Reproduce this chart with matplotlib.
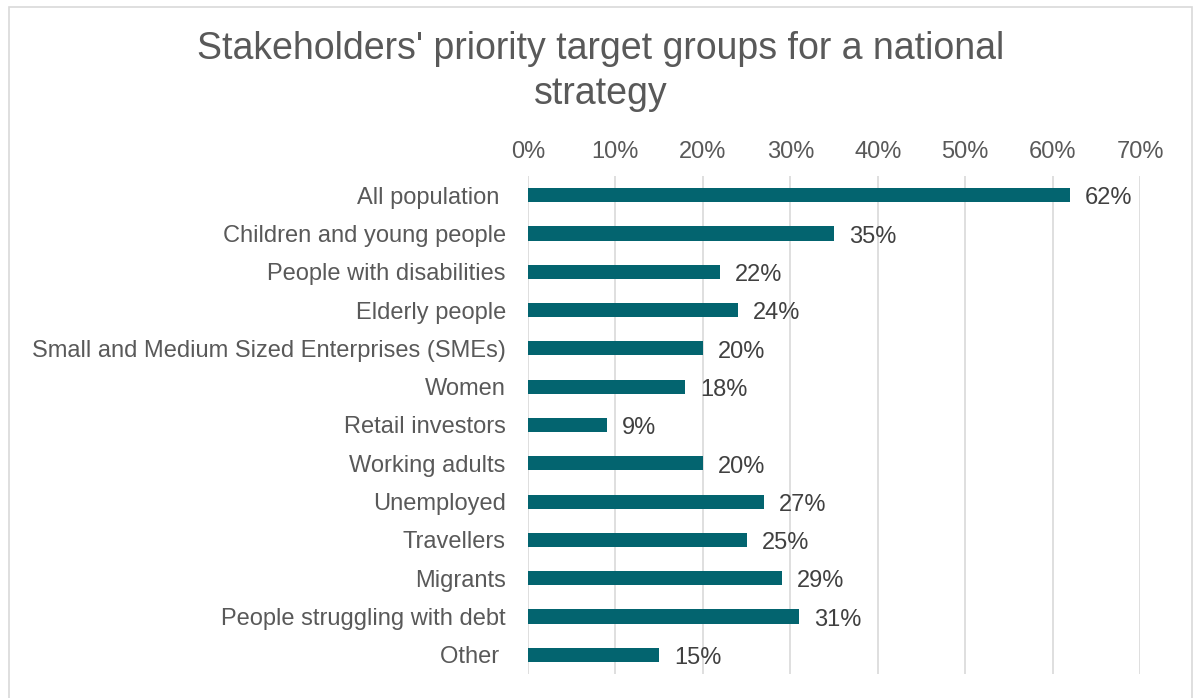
import matplotlib.pyplot as plt
from matplotlib.patches import Rectangle
from matplotlib.ticker import FuncFormatter, MultipleLocator

plt.rcParams['font.family'] = ['Liberation Sans', 'DejaVu Sans']

groups = ['All population ', 'Children and young people', 'People with disabilities',
          'Elderly people', 'Small and Medium Sized Enterprises (SMEs)', 'Women',
          'Retail investors', 'Working adults', 'Unemployed', 'Travellers',
          'Migrants', 'People struggling with debt', 'Other ']
shares = [62, 35, 22, 24, 20, 18, 9, 20, 27, 25, 29, 31, 15]

text_color = '#595959'
bar_color = '#03646f'
grid_color = '#d9d9d9'

fig = plt.figure(figsize=(11.97, 6.98), dpi=100)
ax = fig.add_axes([0.4411, 0.0344, 0.5113, 0.7135])

ypos = list(range(len(groups)))
ax.barh(ypos, shares, height=0.37, color=bar_color, zorder=3)
for y, v in zip(ypos, shares):
    ax.text(v + 1.7, y + 0.02, f'{v}%', va='center_baseline', ha='left',
            fontsize=17, color='#404040')

ax.set_xlim(0, 70)
ax.set_ylim(len(groups) - 0.5, -0.5)
ax.xaxis.set_major_locator(MultipleLocator(10))
ax.xaxis.set_major_formatter(FuncFormatter(lambda x, p: f'{x:.0f}%'))
ax.xaxis.tick_top()
ax.set_yticks(ypos)
ax.set_yticklabels(groups)
ax.tick_params(axis='both', length=0, labelsize=17, colors=text_color)
ax.tick_params(axis='x', pad=9)
ax.tick_params(axis='y', pad=16)
ax.grid(axis='x', color=grid_color, linewidth=1.2, zorder=0)
for s in ax.spines.values():
    s.set_visible(False)

fig.text(0.502, 0.8976, "Stakeholders' priority target groups for a national\nstrategy",
         ha='center', va='center', fontsize=27, color=text_color, linespacing=1.3)

# outer chart frame
fig.patches.append(Rectangle((9 / 1197, -0.05), 1183 / 1197, 1 - 7 / 698 + 0.05,
                             transform=fig.transFigure, fill=False,
                             edgecolor=grid_color, linewidth=1.2))

fig.savefig('out.png', dpi=100)
